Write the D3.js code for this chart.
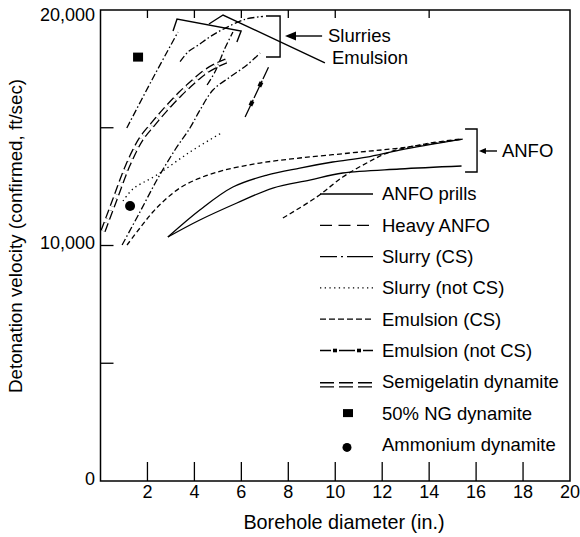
<!DOCTYPE html>
<html><head><meta charset="utf-8">
<script src="https://cdn.jsdelivr.net/npm/d3@7"></script>
<style>
body{margin:0;background:#fff;}
svg{display:block;font-family:"Liberation Sans",Arial,Helvetica,sans-serif;}
</style></head><body>
<svg id="chart" width="580" height="537"></svg>
<script>
// ---------- data ----------
const xTicks = [2,4,6,8,10,12,14,16,18,20];
const xTopTicks = [2,4,6,8,10,14];
const yLabelTicks = [0,10000,20000];
const yMinorTicks = [5000,10000,15000];

// ANFO prills (two solid curves)
const anfoPrillsUpper = [[2.87,10360],[4.23,11507],[5.64,12483],[7.09,12993],[8.49,13290],[9.89,13545],[11.34,13757],[12.74,14054],[15.43,14521]];
const anfoPrillsLower = [[2.87,10360],[4.23,11082],[5.81,11804],[7.34,12441],[8.91,12780],[10.32,13078],[12.74,13248],[15.38,13375]];
// Slurry (CS) dash-dot curves
const slurryCS1 = [[1.12,14989],[2.19,17028],[3.30,19066]];
const slurryCS2 = [[3.39,17805],[3.74,18229],[4.17,18514],[4.67,18866],[5.30,19223],[6.16,19605],[6.92,19724]];
const slurryCS3 = [[0.92,10021],[1.68,11423],[2.45,12866],[3.17,14055],[3.81,14990],[4.24,15754],[4.79,16603],[5.52,17155],[6.24,17665],[6.80,18174]];
const slurryCS4 = [[4.54,16815],[4.88,17380],[5.30,18374],[5.64,19066]];
// Slurry (not CS) dotted
const slurryNotCS = [[0.96,11890],[1.38,12399],[2.41,13000],[3.81,13970],[5.22,14820]];
// Emulsion (CS) dashed
const emulsionCS1 = [[1.13,10021],[1.68,10742],[2.23,11422],[2.74,11931],[3.38,12441],[4.23,12865],[5.30,13205],[6.79,13502],[8.49,13715],[10.62,13927],[12.74,14139],[15.43,14521]];
const emulsionCS2 = [[7.77,11167],[9.21,12059],[10.32,12908],[11.34,13502],[12.32,13969],[13.81,14309],[15.30,14521]];
// Emulsion (not CS)
const emulsionNotCS = [[6.16,15457],[7.18,17622]];
// Semigelatin dynamite (double line)
const semigelatin = [[0.11,10616],[0.62,11975],[1.17,13418],[1.73,14522],[2.24,15159],[2.75,15754],[3.39,16433],[3.94,16943],[4.45,17367],[4.96,17665],[5.35,17834]];
// single points
const ngDynamite = [[1.6,18000]];
const ammoniumDynamite = [[1.26,11677]];

const legendLabels = ["ANFO prills","Heavy ANFO","Slurry (CS)","Slurry (not CS)","Emulsion (CS)","Emulsion (not CS)","Semigelatin dynamite","50% NG dynamite","Ammonium dynamite"];

// annotations (data units)
const slurryBracket = [[3.09,19108],[3.26,19618],[5.99,19108],[5.81,18641]];
const emulsionLeader = [[4.62,19406],[5.22,19788],[9.56,17750]];
const groupBracket = [[7.05,19745],[7.65,19745],[7.65,18004],[7.05,18004]];
const slurriesArrow = [[9.44,18896],[7.86,18896]];
const anfoBracket = [[15.53,14947],[16.04,14947],[16.04,13121],[15.53,13121]];
const anfoArrow = [[16.89,14013],[16.12,14013]];
const annotationLabels = [{text:"Slurries",x:9.69,y:18896},{text:"Emulsion",x:9.86,y:17962},{text:"ANFO",x:17.10,y:14013}];

// ---------- drawing ----------
const svg = d3.select("#chart");
const L=100.5, R=570, T=10, B=481;
const x = d3.scaleLinear().domain([0,20]).range([L,R]);
const y = d3.scaleLinear().domain([0,20000]).range([B,T]);
const FS = 18.5;

const line = d3.line().x(d=>x(d[0])).y(d=>y(d[1])).curve(d3.curveCatmullRom.alpha(0.5));
const poly = d3.line().x(d=>x(d[0])).y(d=>y(d[1]));

const DASHDOT = "7,2.5,1.5,2.5";
function drawCurve(data, dash, w){
  return svg.append("path").attr("d", line(data)).attr("fill","none").attr("stroke","#000")
    .attr("stroke-width", w||1.3).attr("stroke-dasharray", dash||null);
}

// axes frame
svg.append("rect").attr("x",L).attr("y",T).attr("width",R-L).attr("height",B-T)
  .attr("fill","none").attr("stroke","#000").attr("stroke-width",1.5);
// bottom ticks (inward, long)
svg.selectAll(".bt").data(xTicks.filter(d=>d<20)).enter().append("line")
  .attr("x1",d=>x(d)).attr("x2",d=>x(d)).attr("y1",B).attr("y2",B-19)
  .attr("stroke","#000").attr("stroke-width",1.3);
// top ticks
svg.selectAll(".tt").data(xTopTicks).enter().append("line")
  .attr("x1",d=>x(d)).attr("x2",d=>x(d)).attr("y1",T).attr("y2",T+8)
  .attr("stroke","#000").attr("stroke-width",1.3);
// left ticks
svg.selectAll(".lt").data(yMinorTicks).enter().append("line")
  .attr("x1",L).attr("x2",L+13).attr("y1",d=>y(d)).attr("y2",d=>y(d))
  .attr("stroke","#000").attr("stroke-width",1.3);
// tick labels
svg.selectAll(".xl").data(xTicks).enter().append("text")
  .attr("x",d=>x(d)).attr("y",497.5).attr("text-anchor","middle")
  .attr("font-size",18).text(d=>d);
svg.selectAll(".yl").data(yLabelTicks).enter().append("text")
  .attr("x",95).attr("y",d=>Math.max(y(d)-2.5,15)).attr("dy","0.35em").attr("text-anchor","end")
  .attr("font-size",18).text(d=>d3.format(",")(d));
// axis titles
svg.append("text").attr("x",344).attr("y",529).attr("text-anchor","middle")
  .attr("font-size",19.8).text("Borehole diameter (in.)");
svg.append("text").attr("transform","translate(22,236) rotate(-90)").attr("text-anchor","middle")
  .attr("font-size",18.8).text("Detonation velocity (confirmed, ft/sec)");

// curves
drawCurve(anfoPrillsUpper);
drawCurve(anfoPrillsLower);
[slurryCS1,slurryCS2,slurryCS3,slurryCS4].forEach(c=>drawCurve(c,DASHDOT));
drawCurve(slurryNotCS,"1.3,3.4");
[emulsionCS1,emulsionCS2].forEach(c=>drawCurve(c,"5,3"));
// emulsion not CS
const enc = drawCurve(emulsionNotCS,"13,2,4,2");
(function(){
  const node = enc.node(), len = node.getTotalLength();
  for(let s=15; s<len; s+=21){
    const p = node.getPointAtLength(s), p2 = node.getPointAtLength(Math.min(s+1,len));
    const ang = Math.atan2(p2.y-p.y,p2.x-p.x)*180/Math.PI;
    svg.append("rect").attr("x",-2.5).attr("y",-2).attr("width",5).attr("height",4)
      .attr("transform",`translate(${p.x},${p.y}) rotate(${ang})`).attr("fill","#000");
  }
})();
// semigelatin double line
drawCurve(semigelatin,"9,4",5.4);
svg.append("path").attr("d",line(semigelatin)).attr("fill","none").attr("stroke","#fff")
  .attr("stroke-width",2.8).attr("stroke-dasharray","9,4");
// markers
svg.selectAll(".sq").data(ngDynamite).enter().append("rect")
  .attr("x",d=>x(d[0])-5).attr("y",d=>y(d[1])-4.5).attr("width",10).attr("height",9).attr("fill","#000");
svg.selectAll(".ci").data(ammoniumDynamite).enter().append("circle")
  .attr("cx",d=>x(d[0])).attr("cy",d=>y(d[1])).attr("r",5).attr("fill","#000");

// annotations
[slurryBracket,emulsionLeader,groupBracket,anfoBracket].forEach(p=>{
  svg.append("path").attr("d",poly(p)).attr("fill","none").attr("stroke","#000").attr("stroke-width",1.4);
});
function arrow(p, headL, headW){
  const x1=x(p[0][0]), y1=y(p[0][1]), x2=x(p[1][0]), y2=y(p[1][1]);
  svg.append("line").attr("x1",x1).attr("y1",y1).attr("x2",x2+headL*0.8).attr("y2",y2)
    .attr("stroke","#000").attr("stroke-width",1.4);
  svg.append("path").attr("d",`M${x2},${y2}L${x2+headL},${y2-headW}L${x2+headL},${y2+headW}Z`).attr("fill","#000");
}
arrow(slurriesArrow,11,4.5);
arrow(anfoArrow,7,3);
svg.selectAll(".ann").data(annotationLabels).enter().append("text")
  .attr("x",d=>x(d.x)).attr("y",d=>y(d.y)).attr("dy","0.35em").attr("font-size",FS).text(d=>d.text);

// legend
const lx1=320, lx2=373, ltx=382, ly0=194, lstep=31.3;
const lg = svg.append("g");
legendLabels.forEach((lab,i)=>{
  const yy = ly0 + i*lstep;
  lg.append("text").attr("x",ltx).attr("y",yy).attr("dy","0.35em").attr("font-size",FS).text(lab);
  const ln = (dash,w,col,off)=>lg.append("line").attr("x1",lx1).attr("x2",lx2).attr("y1",yy+(off||0)).attr("y2",yy+(off||0))
      .attr("stroke",col||"#000").attr("stroke-width",w||1.3).attr("stroke-dasharray",dash||null);
  if(i===0) ln();
  if(i===1) ln("12,6.5");
  if(i===2) ln("17,4,2,4,26");
  if(i===3) ln("1.3,3.4");
  if(i===4) ln("6,3");
  if(i===5){ ln("11,2,4,2,16,2,4,2,12");
    [15,39].forEach(o=>lg.append("rect").attr("x",lx1+o-2).attr("y",yy-1.8).attr("width",4).attr("height",3.6).attr("fill","#000"));
  }
  if(i===6){ ln("14,5",5.4,"#000",3); ln("14,5",2.8,"#fff",3); }
  if(i===7) lg.append("rect").attr("x",343).attr("y",yy-4).attr("width",10).attr("height",8).attr("fill","#000");
  if(i===8) lg.append("circle").attr("cx",347).attr("cy",yy+3).attr("r",4.5).attr("fill","#000");
});
</script>
</body></html>
